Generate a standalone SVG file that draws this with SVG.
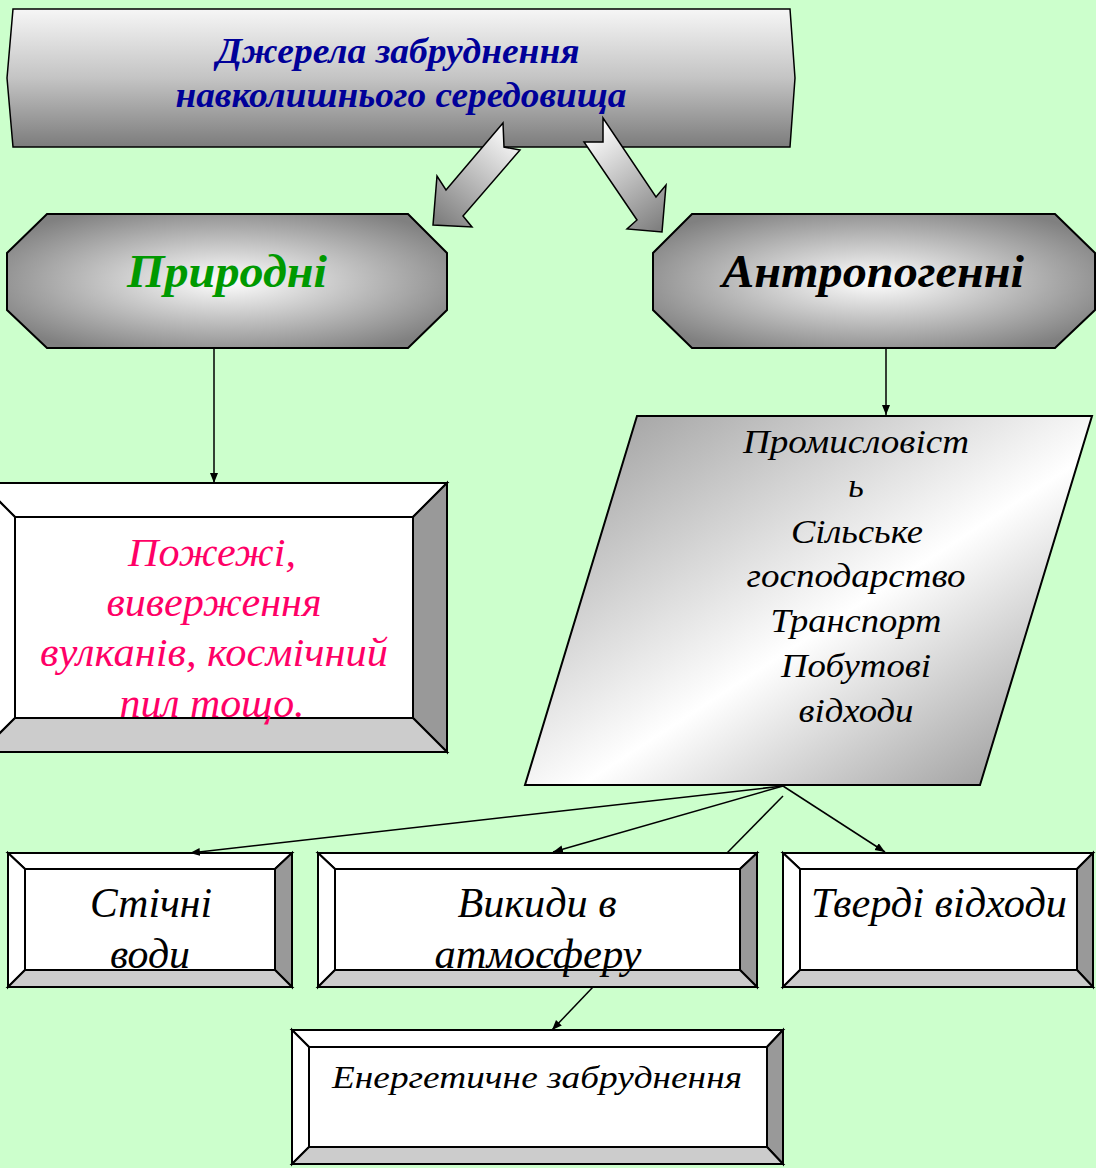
<svg xmlns="http://www.w3.org/2000/svg" width="1096" height="1168" viewBox="0 0 1096 1168">
<style>
.ol{stroke:#000;stroke-width:2;stroke-linejoin:miter}
.t{font-family:"Liberation Serif","Times New Roman",serif;font-style:italic;text-anchor:middle}
.b{font-weight:bold}
.con{stroke:#000;stroke-width:1.5;fill:none}
.w{fill:#fff}.r{fill:#999}.bt{fill:#ccc}
</style>
<defs>
<linearGradient id="gTop" x1="0" y1="0" x2="0" y2="1">
<stop offset="0" stop-color="#f6f6f6"/><stop offset="0.5" stop-color="#c4c4c4"/><stop offset="1" stop-color="#7c7c7c"/>
</linearGradient>
<radialGradient id="gOct" cx="0.5" cy="0.5" r="0.6">
<stop offset="0" stop-color="#ffffff"/><stop offset="1" stop-color="#808080"/>
</radialGradient>
<linearGradient id="gPar" x1="0" y1="0" x2="1" y2="1">
<stop offset="0" stop-color="#959595"/><stop offset="0.55" stop-color="#ffffff"/><stop offset="1" stop-color="#8c8c8c"/>
</linearGradient>
<linearGradient id="gA1" gradientUnits="userSpaceOnUse" x1="515" y1="130" x2="440" y2="222">
<stop offset="0" stop-color="#ffffff"/><stop offset="1" stop-color="#808080"/>
</linearGradient>
<linearGradient id="gA2" gradientUnits="userSpaceOnUse" x1="590" y1="130" x2="660" y2="228">
<stop offset="0" stop-color="#ffffff"/><stop offset="1" stop-color="#808080"/>
</linearGradient>
<marker id="ah" markerWidth="11" markerHeight="9" refX="10" refY="4" orient="auto" markerUnits="userSpaceOnUse">
<path d="M0,0 L10,4 L0,8 Z" fill="#000"/>
</marker>
</defs>
<rect width="1096" height="1168" fill="#ccffcc"/>

<g id="title">
<path d="M13,9 L790,9 L795,78 L790,147 L13,147 L7,78 Z" fill="url(#gTop)" stroke="#000" stroke-width="1.5"/>
<text class="t b" x="398" y="63" font-size="36" fill="#000099" textLength="363" lengthAdjust="spacingAndGlyphs">Джерела забруднення</text>
<text class="t b" x="401" y="107" font-size="36" fill="#000099" textLength="451" lengthAdjust="spacingAndGlyphs">навколишнього середовища</text>
</g>

<g id="arrow-left">
<path d="M503,123 L504,147 L520,150 L463,216 L472,227 L433,225 L437,176 L446,190 Z" fill="url(#gA1)" stroke="#000" stroke-width="1.5"/>
</g>
<g id="arrow-right">
<path d="M603,118 L603,142 L584,142 L637,220 L627,229 L662,232 L666,185 L656,197 Z" fill="url(#gA2)" stroke="#000" stroke-width="1.5"/>
</g>

<g id="pryrodni">
<path d="M47,214 L408,214 L447,253 L447,310 L408,348 L47,348 L7,310 L7,253 Z" fill="url(#gOct)" stroke="#000" stroke-width="2"/>
<text class="t b" x="227" y="287" font-size="46" fill="#009900" textLength="200" lengthAdjust="spacingAndGlyphs">Природні</text>
</g>

<g id="antropogenni">
<path d="M692,214 L1055,214 L1095,253 L1095,310 L1055,348 L692,348 L653,310 L653,253 Z" fill="url(#gOct)" stroke="#000" stroke-width="2"/>
<text class="t b" x="873" y="287" font-size="46" fill="#000" textLength="302" lengthAdjust="spacingAndGlyphs">Антропогенні</text>
</g>

<g id="pozhezhi">
<g class="ol">
<polygon class="w" points="-19,483 447,483 413,517 15,517"/>
<polygon class="w" points="-19,483 15,517 15,718 -19,752"/>
<polygon class="r" points="447,483 447,752 413,718 413,517"/>
<polygon class="bt" points="-19,752 15,718 413,718 447,752"/>
<rect class="w" x="15" y="517" width="398" height="201"/>
</g>
<g class="t" font-size="40" fill="#ff0066">
<text x="212" y="566" textLength="168" lengthAdjust="spacingAndGlyphs">Пожежі,</text>
<text x="214" y="616" textLength="215" lengthAdjust="spacingAndGlyphs">виверження</text>
<text x="214" y="666" textLength="348" lengthAdjust="spacingAndGlyphs">вулканів, космічний</text>
<text x="212" y="717" textLength="185" lengthAdjust="spacingAndGlyphs">пил тощо.</text>
</g>
</g>

<g id="sectors">
<polygon points="637,416 1092,416 980,785 525,785" fill="url(#gPar)" stroke="#000" stroke-width="2"/>
<g class="t" font-size="34" fill="#000">
<text x="856" y="453" textLength="226" lengthAdjust="spacingAndGlyphs">Промисловіст</text>
<text x="856" y="497">ь</text>
<text x="857" y="543" textLength="132" lengthAdjust="spacingAndGlyphs">Сільське</text>
<text x="856" y="587" textLength="219" lengthAdjust="spacingAndGlyphs">господарство</text>
<text x="856" y="632" textLength="171" lengthAdjust="spacingAndGlyphs">Транспорт</text>
<text x="856" y="677" textLength="150" lengthAdjust="spacingAndGlyphs">Побутові</text>
<text x="856" y="722" textLength="115" lengthAdjust="spacingAndGlyphs">відходи</text>
</g>
</g>

<g id="stichni">
<g class="ol">
<polygon class="w" points="8,853 292,853 275,869 25,869"/>
<polygon class="w" points="8,853 25,869 25,970 8,987"/>
<polygon class="r" points="292,853 292,987 275,970 275,869"/>
<polygon class="bt" points="8,987 25,970 275,970 292,987"/>
<rect class="w" x="25" y="869" width="250" height="101"/>
</g>
<g class="t" font-size="42" fill="#000">
<text x="151" y="917" textLength="122" lengthAdjust="spacingAndGlyphs">Стічні</text>
<text x="150" y="968" textLength="80" lengthAdjust="spacingAndGlyphs">води</text>
</g>
</g>

<g id="vykydy">
<g class="ol">
<polygon class="w" points="318,853 757,853 740,869 335,869"/>
<polygon class="w" points="318,853 335,869 335,970 318,987"/>
<polygon class="r" points="757,853 757,987 740,970 740,869"/>
<polygon class="bt" points="318,987 335,970 740,970 757,987"/>
<rect class="w" x="335" y="869" width="405" height="101"/>
</g>
<g class="t" font-size="42" fill="#000">
<text x="537" y="917" textLength="159" lengthAdjust="spacingAndGlyphs">Викиди в</text>
<text x="538" y="968" textLength="207" lengthAdjust="spacingAndGlyphs">атмосферу</text>
</g>
</g>

<g id="tverdi">
<g class="ol">
<polygon class="w" points="783,853 1093,853 1077,869 800,869"/>
<polygon class="w" points="783,853 800,869 800,970 783,987"/>
<polygon class="r" points="1093,853 1093,987 1077,970 1077,869"/>
<polygon class="bt" points="783,987 800,970 1077,970 1093,987"/>
<rect class="w" x="800" y="869" width="277" height="101"/>
</g>
<text class="t" x="939" y="917" font-size="42" fill="#000" textLength="256" lengthAdjust="spacingAndGlyphs">Тверді відходи</text>
</g>

<g id="energetychne">
<g class="ol">
<polygon class="w" points="292,1030 783,1030 767,1047 309,1047"/>
<polygon class="w" points="292,1030 309,1047 309,1147 292,1164"/>
<polygon class="r" points="783,1030 783,1164 767,1147 767,1047"/>
<polygon class="bt" points="292,1164 309,1147 767,1147 783,1164"/>
<rect class="w" x="309" y="1047" width="458" height="100"/>
</g>
<text class="t" x="537" y="1088" font-size="32" fill="#000" textLength="410" lengthAdjust="spacingAndGlyphs">Енергетичне забруднення</text>
</g>

<g id="connectors">
<path class="con" d="M214,349 L214,483" marker-end="url(#ah)"/>
<path class="con" d="M886,349 L886,415" marker-end="url(#ah)"/>
<path class="con" d="M783,786 L190,853" marker-end="url(#ah)"/>
<path class="con" d="M783,786 L553,852" marker-end="url(#ah)"/>
<path class="con" d="M783,796 L727,853"/>
<path class="con" d="M783,786 L885,852" marker-end="url(#ah)"/>
<path class="con" d="M593,987 L552,1030" marker-end="url(#ah)"/>
</g>
</svg>
